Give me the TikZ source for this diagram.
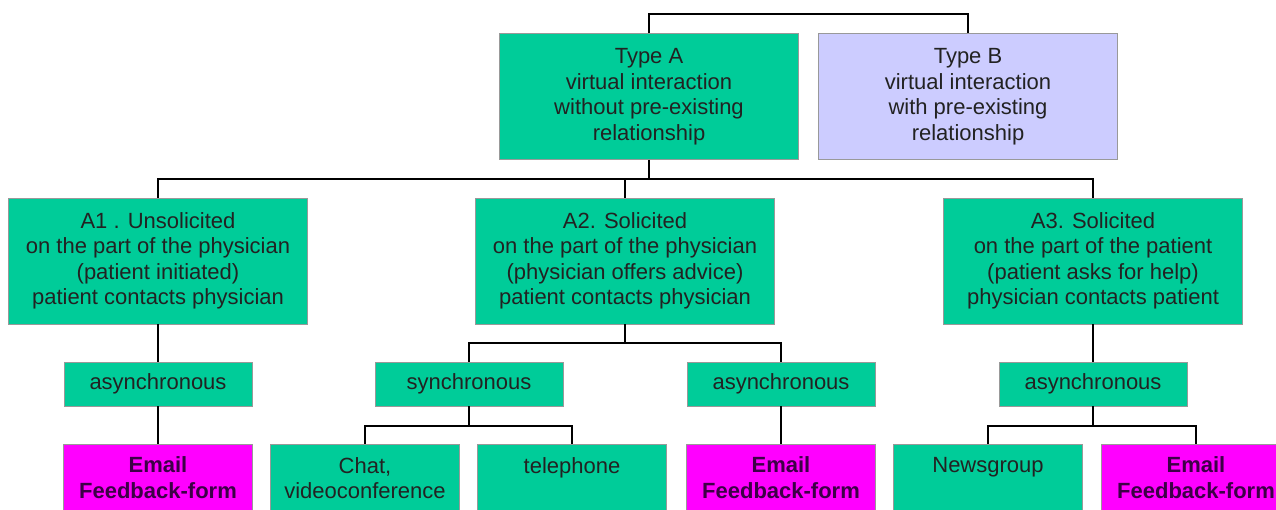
\documentclass[tikz,border=0pt]{standalone}
\usepackage{fontspec}
\setmainfont{Liberation Sans}
\definecolor{boxgreen}{RGB}{0,204,153}
\definecolor{boxlav}{RGB}{204,204,255}
\definecolor{boxmag}{RGB}{255,0,255}
\definecolor{magtext}{RGB}{60,0,70}
\definecolor{txt}{RGB}{34,34,34}
\begin{document}
\begin{tikzpicture}[x=1pt,y=-1pt,
  base/.style={rectangle, draw=black!40, line width=0.6pt, inner sep=0pt, align=center, text=txt, font=\fontsize{22}{25.5}\selectfont},
  bigbox/.style={base, fill=boxgreen, minimum width=299pt, minimum height=126pt},
  lavbox/.style={bigbox, fill=boxlav},
  midbox/.style={base, fill=boxgreen, minimum width=188pt, minimum height=44pt},
  leafbox/.style={base, fill=boxgreen, minimum width=189pt, minimum height=68pt},
  magbox/.style={leafbox, fill=boxmag, text=magtext, font=\fontsize{22}{26}\selectfont\bfseries},
  conn/.style={draw=black, line width=1.5pt}]
\useasboundingbox (0,0) rectangle (1276,510);
\clip (0,0) rectangle (1276,510);
\fill[white] (0,0) rectangle (1276,510);

\coordinate (bar0) at (0,14);
\coordinate (bar1) at (0,179);
\coordinate (bar2) at (0,343);
\coordinate (bar3) at (0,426);

\node[bigbox] (TA) at (649,96.5) {Type A\\virtual interaction\\without pre-existing\\relationship};
\node[lavbox] (TB) at (968,96.5) {Type B\\virtual interaction\\with pre-existing\\relationship};

\node[bigbox] (A1) at (158,261) {A1 . Unsolicited\\on the part of the physician\\(patient initiated)\\patient contacts physician};
\node[bigbox] (A2) at (625,261) {A2. Solicited\\on the part of the physician\\(physician offers advice)\\patient contacts physician};
\node[bigbox] (A3) at (1093,261) {A3. Solicited\\on the part of the patient\\(patient asks for help)\\physician contacts patient};

\node[midbox] (S1) at (158,384) {asynchronous};
\node[midbox] (S2) at (469,384) {synchronous};
\node[midbox] (S3) at (781,384) {asynchronous};
\node[midbox] (S4) at (1093,384) {asynchronous};

\node[magbox] (E1) at (158,478) {Email\\Feedback-form};
\node[leafbox] (Chat) at (365,478) {Chat,\\videoconference};
\node[leafbox] (Tel) at (572,478) {telephone\\~};
\node[magbox] (E2) at (781,478) {Email\\Feedback-form};
\node[leafbox] (News) at (988,478) {Newsgroup\\~};
\node[magbox] (E3) at (1196,478) {Email\\Feedback-form};

\draw[conn] (TA.north) |- (TB.north |- bar0) -- (TB.north);
\draw[conn] (TA.south) -- (TA.south |- bar1);
\draw[conn] (A1.north) |- (A3.north |- bar1) -- (A3.north);
\draw[conn] (A2.north) -- (A2.north |- bar1);

\draw[conn] (A1.south) -- (S1.north);
\draw[conn] (S1.south) -- (E1.north);

\draw[conn] (A2.south) -- (A2.south |- bar2);
\draw[conn] (S2.north) |- (S3.north |- bar2) -- (S3.north);
\draw[conn] (S2.south) -- (S2.south |- bar3);
\draw[conn] (Chat.north) |- (Tel.north |- bar3) -- (Tel.north);
\draw[conn] (S3.south) -- (E2.north);

\draw[conn] (A3.south) -- (S4.north);
\draw[conn] (S4.south) -- (S4.south |- bar3);
\draw[conn] (News.north) |- (E3.north |- bar3) -- (E3.north);
\end{tikzpicture}
\end{document}
